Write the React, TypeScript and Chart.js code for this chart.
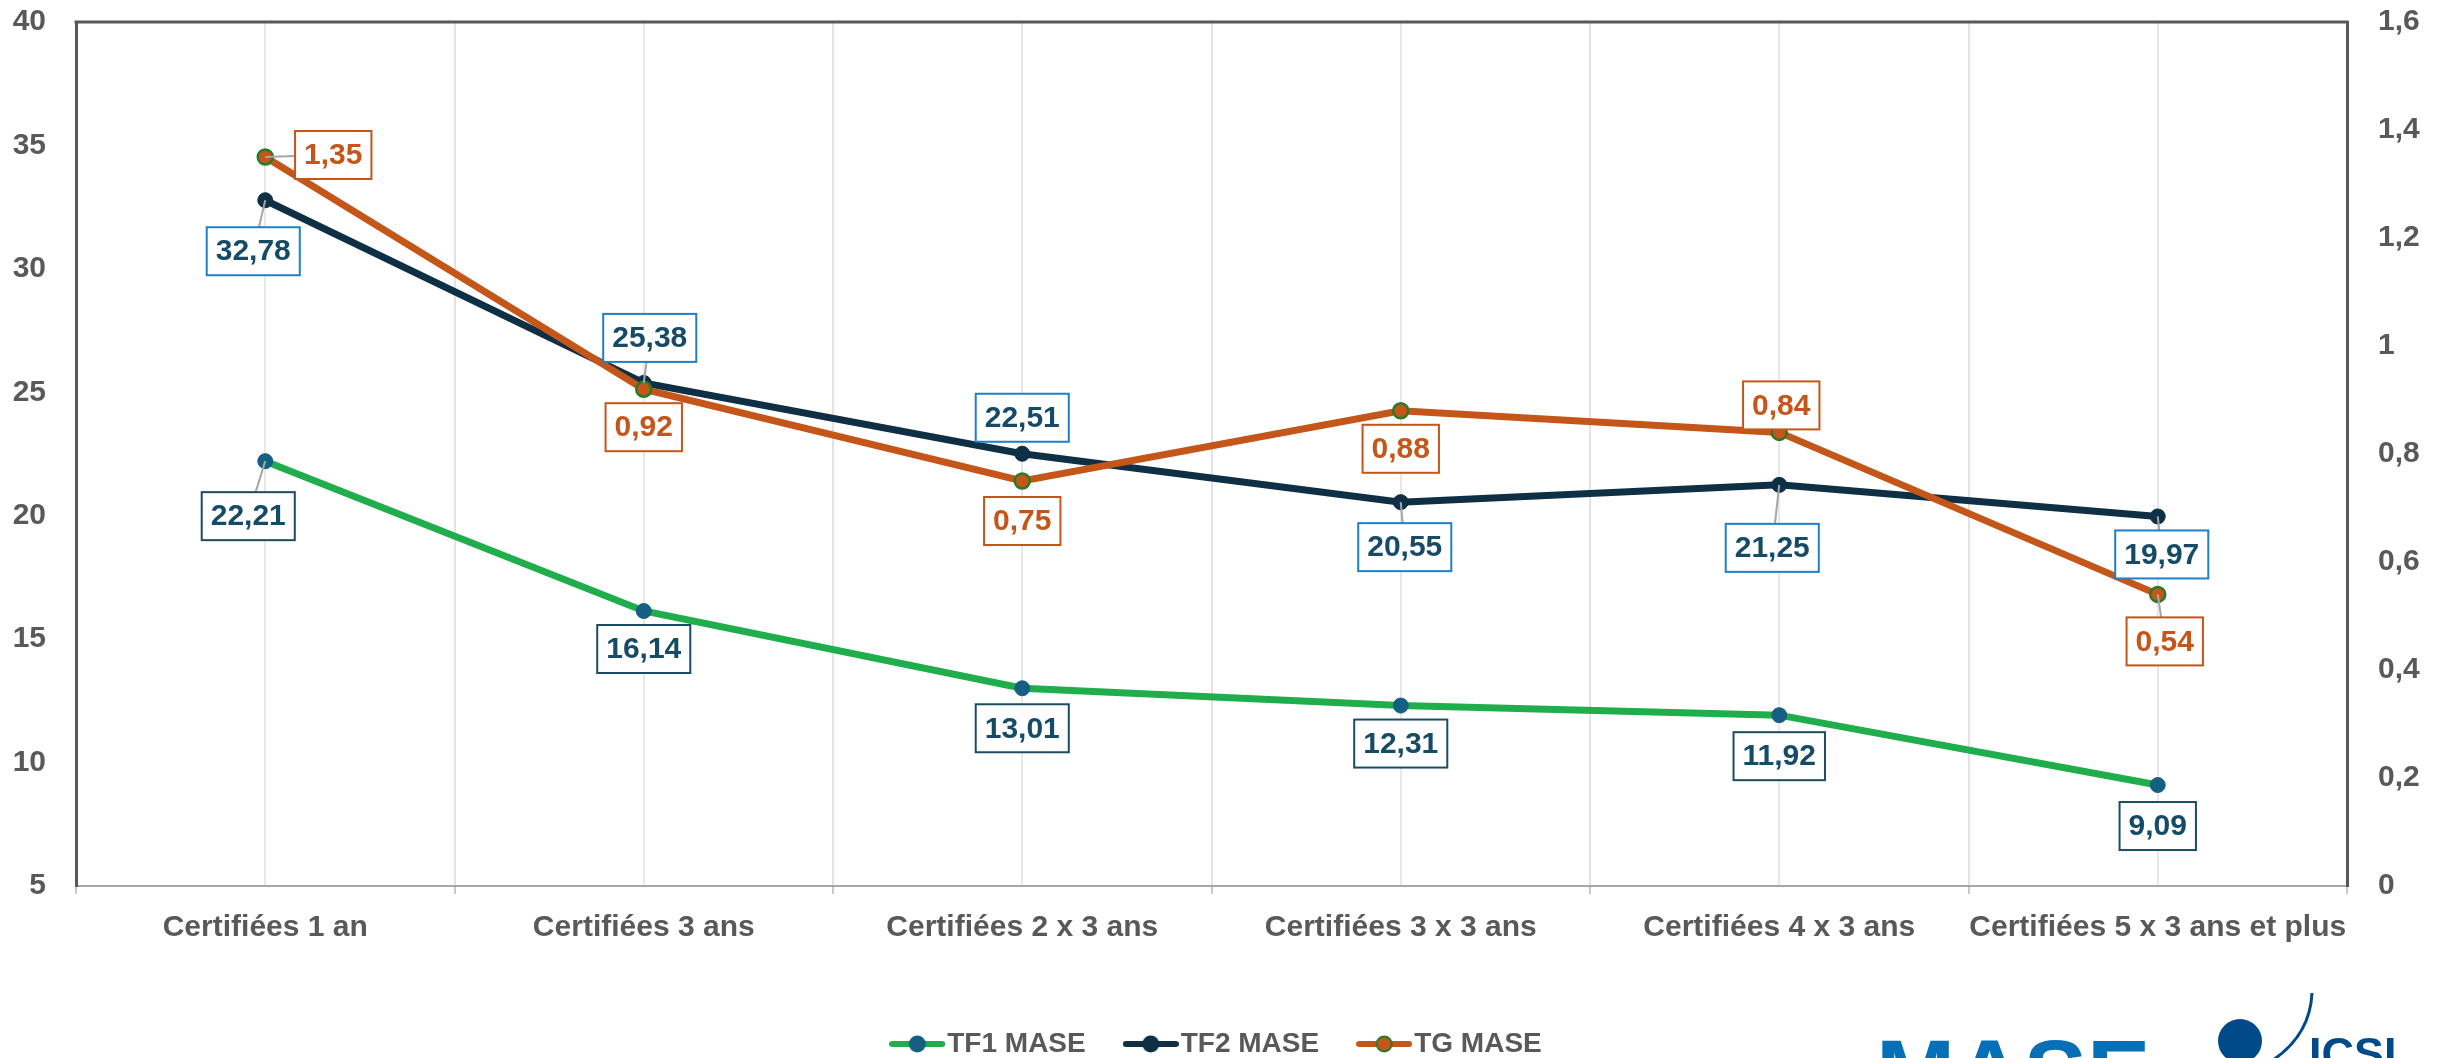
import React, { useEffect, useRef } from 'react';
import { Chart, registerables } from 'chart.js';

Chart.register(...registerables);

// ---------- data ----------
const categories = [
  'Certifiées 1 an',
  'Certifiées 3 ans',
  'Certifiées 2 x 3 ans',
  'Certifiées 3 x 3 ans',
  'Certifiées 4 x 3 ans',
  'Certifiées 5 x 3 ans et plus',
];
const seriesNames = ['TF1 MASE', 'TF2 MASE', 'TG MASE'];
const tf1Values = [22.21, 16.14, 13.01, 12.31, 11.92, 9.09];
const tf2Values = [32.78, 25.38, 22.51, 20.55, 21.25, 19.97];
const tgValues = [1.35, 0.92, 0.75, 0.88, 0.84, 0.54];
const leftTickLabels = ['5', '10', '15', '20', '25', '30', '35', '40'];
const rightTickLabels = ['0', '0,2', '0,4', '0,6', '0,8', '1', '1,2', '1,4', '1,6'];

// ---------- label placement (relative offsets of the value boxes) ----------
const LABEL_OFFSETS: number[][][] = [
  [[-17, 55], [0, 38], [0, 40], [0, 38], [0, 41], [0, 41]],
  [[-12, 51], [6, -45], [0, -36], [4, 45], [-7, 63], [4, 38]],
  [[68, -2], [0, 38], [0, 40], [0, 38], [2, -27], [7, 47]],
];
const LABEL_LEADERS: boolean[][] = [
  [true, false, false, false, false, false],
  [true, true, false, true, true, true],
  [true, false, false, false, false, true],
];

const FONT = '"Liberation Sans", Arial, sans-serif';
const GREY_TEXT = '#595959';

const STYLES = [
  { line: '#1fae4b', point: '#156082', pointBorder: '#156082', labelBorder: '#1b4c64', labelText: '#164b68' },
  { line: '#0e2f44', point: '#0e2f44', pointBorder: '#0e2f44', labelBorder: '#1f7fc8', labelText: '#164b68' },
  { line: '#c4561a', point: '#c4561a', pointBorder: '#2a7a2a', labelBorder: '#c4561a', labelText: '#c4561a' },
];

const fmtValue = (v: number) => v.toFixed(2).replace('.', ',');

function legendImage(style: { line: string; point: string; pointBorder: string }) {
  const c = document.createElement('canvas');
  c.width = 56;
  c.height = 20;
  const g = c.getContext('2d')!;
  g.strokeStyle = style.line;
  g.lineWidth = 6;
  g.lineCap = 'round';
  g.beginPath();
  g.moveTo(3, 10);
  g.lineTo(53, 10);
  g.stroke();
  g.beginPath();
  g.arc(28, 10, 7.5, 0, Math.PI * 2);
  g.fillStyle = style.point;
  g.fill();
  g.lineWidth = 2;
  g.strokeStyle = style.pointBorder;
  g.stroke();
  return c;
}

const topBorderPlugin = {
  id: 'topBorder',
  beforeDatasetsDraw(chart: any) {
    const { ctx, chartArea } = chart;
    ctx.save();
    ctx.strokeStyle = GREY_TEXT;
    ctx.lineWidth = 3;
    ctx.beginPath();
    ctx.moveTo(chartArea.left - 1.5, chartArea.top);
    ctx.lineTo(chartArea.right + 1.5, chartArea.top);
    ctx.stroke();
    ctx.restore();
  },
};

const boxLabelPlugin = {
  id: 'boxLabels',
  afterDatasetsDraw(chart: any) {
    const ctx = chart.ctx as CanvasRenderingContext2D;
    ctx.save();
    ctx.font = `bold 30px ${FONT}`;
    ctx.textAlign = 'center';
    ctx.textBaseline = 'middle';
    chart.data.datasets.forEach((ds: any, di: number) => {
      const meta = chart.getDatasetMeta(di);
      const st = STYLES[di];
      meta.data.forEach((pt: any, j: number) => {
        const [dx, dy] = LABEL_OFFSETS[di][j];
        const text = fmtValue(ds.data[j]);
        const w = ctx.measureText(text).width + 18;
        const h = 48;
        const cx = pt.x + dx;
        const cy = pt.y + dy;
        const l = cx - w / 2;
        const t = cy - h / 2;
        if (LABEL_LEADERS[di][j]) {
          const vx = pt.x - cx;
          const vy = pt.y - cy;
          const s = Math.min(
            vx === 0 ? Infinity : (w / 2) / Math.abs(vx),
            vy === 0 ? Infinity : (h / 2) / Math.abs(vy)
          );
          const ex = cx + vx * s;
          const ey = cy + vy * s;
          ctx.strokeStyle = '#a6a6a6';
          ctx.lineWidth = 2;
          ctx.beginPath();
          ctx.moveTo(pt.x, pt.y);
          ctx.lineTo(ex, ey);
          ctx.stroke();
        }
        ctx.fillStyle = '#ffffff';
        ctx.fillRect(l, t, w, h);
        ctx.strokeStyle = st.labelBorder;
        ctx.lineWidth = 2;
        ctx.strokeRect(l, t, w, h);
        ctx.fillStyle = st.labelText;
        ctx.fillText(text, cx, cy + 1);
      });
    });
    ctx.restore();
  },
};

const logoPlugin = {
  id: 'logo',
  afterDraw(chart: any) {
    const ctx = chart.ctx as CanvasRenderingContext2D;
    ctx.save();
    ctx.textAlign = 'left';
    ctx.textBaseline = 'alphabetic';
    ctx.fillStyle = '#0570b8';
    ctx.font = `bold 95px ${FONT}`;
    ctx.fillText('MASE', 1876, 1106);
    ctx.fillStyle = '#004a8a';
    ctx.beginPath();
    ctx.arc(2240, 1041, 22, 0, Math.PI * 2);
    ctx.fill();
    ctx.strokeStyle = '#004a8a';
    ctx.lineWidth = 3;
    ctx.beginPath();
    ctx.moveTo(2312, 993);
    ctx.quadraticCurveTo(2310, 1035, 2273, 1060);
    ctx.stroke();
    ctx.font = `bold 45px ${FONT}`;
    ctx.fillText('ICSI', 2309, 1069);
    ctx.restore();
  },
};

export default function App() {
  const ref = useRef<HTMLCanvasElement | null>(null);

  useEffect(() => {
    if (!ref.current) return;
    const images = STYLES.map((s) => legendImage(s));
    const values = [tf1Values, tf2Values, tgValues];
    const chart = new Chart(ref.current, {
      type: 'line',
      data: {
        labels: categories,
        datasets: seriesNames.map((name, i) => ({
          label: name,
          data: values[i],
          yAxisID: i === 2 ? 'y1' : 'y',
          xAxisID: 'x',
          borderColor: STYLES[i].line,
          backgroundColor: STYLES[i].point,
          borderWidth: 7,
          pointRadius: 7.5,
          pointBackgroundColor: STYLES[i].point,
          pointBorderColor: STYLES[i].pointBorder,
          pointBorderWidth: i === 2 ? 2.5 : 1,
          tension: 0,
          order: 3 - i,
        })),
      },
      options: {
        animation: false,
        responsive: true,
        maintainAspectRatio: false,
        layout: { padding: { top: 22, bottom: -10, left: 0, right: 0 } },
        plugins: {
          tooltip: { enabled: false },
          legend: {
            position: 'bottom',
            labels: {
              usePointStyle: true,
              pointStyleWidth: 32,
              boxHeight: 28,
              padding: 49,
              color: GREY_TEXT,
              font: { family: FONT, size: 28, weight: 'bold' },
              sort: (a: any, b: any) => a.datasetIndex - b.datasetIndex,
              generateLabels: (ch: any) => {
                const items = (Chart.defaults.plugins.legend.labels as any).generateLabels(ch);
                return items.map((it: any) => ({ ...it, pointStyle: images[it.datasetIndex], rotation: 0 }));
              },
            },
          },
        },
        scales: {
          x: {
            type: 'category',
            position: 'bottom',
            offset: true,
            grid: {
              offset: true,
              color: '#e3e3e3',
              lineWidth: 2,
              drawTicks: true,
              tickLength: 8,
              tickColor: '#c8c8c8',
            },
            border: { display: true, color: '#a6a6a6', width: 2 },
            ticks: {
              color: GREY_TEXT,
              font: { family: FONT, size: 30, weight: 'bold' },
              padding: 16,
              maxRotation: 0,
              minRotation: 0,
              autoSkip: false,
            },
            afterFit: (s: any) => {
              s.height = 95;
            },
          },
          x2: {
            type: 'category',
            position: 'top',
            offset: true,
            grid: { offset: false, color: '#e8e8e8', lineWidth: 2, drawTicks: false },
            border: { display: false },
            ticks: { display: false, padding: 0 },
            afterFit: (s: any) => {
              s.height = 0;
            },
          },
          y: {
            type: 'linear',
            position: 'left',
            min: 5,
            max: 40,
            grid: { display: false, drawTicks: true, tickLength: 30 },
            border: { display: true, color: GREY_TEXT, width: 3 },
            ticks: {
              stepSize: 5,
              padding: 0,
              color: GREY_TEXT,
              font: { family: FONT, size: 30, weight: 'bold' },
              callback: (_v: any, idx: number) => leftTickLabels[idx],
            },
            afterFit: (s: any) => {
              s.width = 76;
            },
          },
          y1: {
            type: 'linear',
            position: 'right',
            min: 0,
            max: 1.6,
            grid: { display: false, drawTicks: true, tickLength: 31 },
            border: { display: true, color: GREY_TEXT, width: 3 },
            ticks: {
              stepSize: 0.2,
              padding: 0,
              color: GREY_TEXT,
              font: { family: FONT, size: 30, weight: 'bold' },
              callback: (_v: any, idx: number) => rightTickLabels[idx],
            },
            afterFit: (s: any) => {
              s.width = 96;
            },
          },
        },
      } as any,
      plugins: [topBorderPlugin, boxLabelPlugin, logoPlugin],
    });
    return () => chart.destroy();
  }, []);

  return (
    <div
      style={{
        position: 'fixed',
        left: 0,
        top: 0,
        width: '2443px',
        height: '1058px',
        overflow: 'hidden',
        background: '#ffffff',
      }}
    >
      <canvas ref={ref} />
    </div>
  );
}
